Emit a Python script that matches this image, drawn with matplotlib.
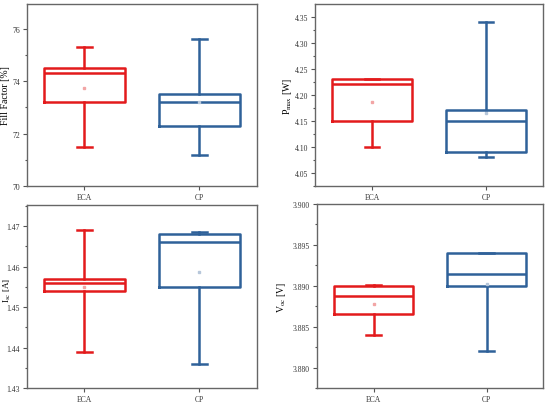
import matplotlib
matplotlib.use('Agg')
import matplotlib.pyplot as plt
from matplotlib.ticker import MultipleLocator, FormatStrFormatter

plt.rcParams['font.family'] = ['Liberation Serif', 'DejaVu Serif']
plt.rcParams['mathtext.fontset'] = 'stix'

groups = ['ECA', 'CP']
colors = ['#e31a1c', '#2f6199']
mean_colors = ['#f2a5a5', '#b7c7da']

# per panel: [ECA, CP]
ff_low = [71.5, 71.2]
ff_q1 = [73.2, 72.3]
ff_med = [74.3, 73.2]
ff_q3 = [74.5, 73.5]
ff_high = [75.3, 75.6]
ff_mean = [73.75, 73.2]

pmax_low = [4.10, 4.08]
pmax_q1 = [4.15, 4.09]
pmax_med = [4.22, 4.15]
pmax_q3 = [4.23, 4.17]
pmax_high = [4.23, 4.34]
pmax_mean = [4.187, 4.165]

isc_low = [1.439, 1.436]
isc_q1 = [1.454, 1.455]
isc_med = [1.456, 1.466]
isc_q3 = [1.457, 1.468]
isc_high = [1.469, 1.4685]
isc_mean = [1.455, 1.4587]

voc_low = [3.884, 3.882]
voc_q1 = [3.8865, 3.890]
voc_med = [3.8888, 3.8915]
voc_q3 = [3.890, 3.894]
voc_high = [3.8901, 3.894]
voc_mean = [3.8878, 3.8902]


def stats(low, q1, med, q3, high, mean):
    return [dict(whislo=low[i], q1=q1[i], med=med[i], q3=q3[i], whishi=high[i],
                 mean=mean[i], fliers=[]) for i in range(len(groups))]


fig = plt.figure(figsize=(5.45, 4.1), dpi=100)

# rect, stats, ylabel, ylim, major, minor, fmt, label x, label y, label size
panels = [
    ([0.0495, 0.5439, 0.4220, 0.4439], stats(ff_low, ff_q1, ff_med, ff_q3, ff_high, ff_mean),
     'Fill Factor [%]', (70, 76.95), 2, 1, '%d', -0.074, 0.5, 7),
    ([0.578, 0.5439, 0.4183, 0.4439], stats(pmax_low, pmax_q1, pmax_med, pmax_q3, pmax_high, pmax_mean),
     r'P$_{\mathrm{max}}$ [W]', (4.025, 4.374), 0.05, 0.025, '%.2f', -0.092, 0.5, 7),
    ([0.0495, 0.0512, 0.4220, 0.4463], stats(isc_low, isc_q1, isc_med, isc_q3, isc_high, isc_mean),
     r'I$_{\mathrm{sc}}$ [A]', (1.43, 1.4752), 0.01, 0.005, '%.2f', -0.062, 0.54, 6.5),
    ([0.5817, 0.0512, 0.4147, 0.4488], stats(voc_low, voc_q1, voc_med, voc_q3, voc_high, voc_mean),
     r'V$_{\mathrm{oc}}$ [V]', (3.8775, 3.900), 0.005, 0.0025, '%.3f', -0.128, 0.5, 7),
]

for rect, st, ylabel, ylim, major, minor, fmt, labx, laby, lsize in panels:
    ax = fig.add_axes(rect)
    for i, s in enumerate(st):
        c = colors[i]
        ax.bxp([s], positions=[i + 1], widths=0.7, capwidths=0.13,
               showmeans=True, showfliers=False, manage_ticks=False,
               boxprops=dict(color=c, linewidth=1.8),
               whiskerprops=dict(color=c, linewidth=1.8),
               capprops=dict(color=c, linewidth=1.8),
               medianprops=dict(color=c, linewidth=1.8),
               meanprops=dict(marker='s', markersize=2, markerfacecolor=mean_colors[i],
                              markeredgecolor=mean_colors[i]))
    ax.set_xlim(0.5, 2.5)
    ax.set_xticks([1, 2])
    ax.set_xticklabels(groups)
    ax.set_ylim(*ylim)
    ax.yaxis.set_major_locator(MultipleLocator(major))
    ax.yaxis.set_minor_locator(MultipleLocator(minor))
    ax.yaxis.set_major_formatter(FormatStrFormatter(fmt))
    ax.set_ylabel(ylabel, fontsize=lsize)
    ax.yaxis.set_label_coords(labx, laby)
    ax.tick_params(axis='both', labelsize=5.5, colors='#555555', labelcolor='#333333',
                   length=3, width=0.8, pad=2)
    ax.tick_params(axis='y', which='minor', length=1.8, width=0.8, colors='#555555')
    for sp in ax.spines.values():
        sp.set_color('#666666')
        sp.set_linewidth(1.0)

fig.savefig('out.png', dpi=100)
